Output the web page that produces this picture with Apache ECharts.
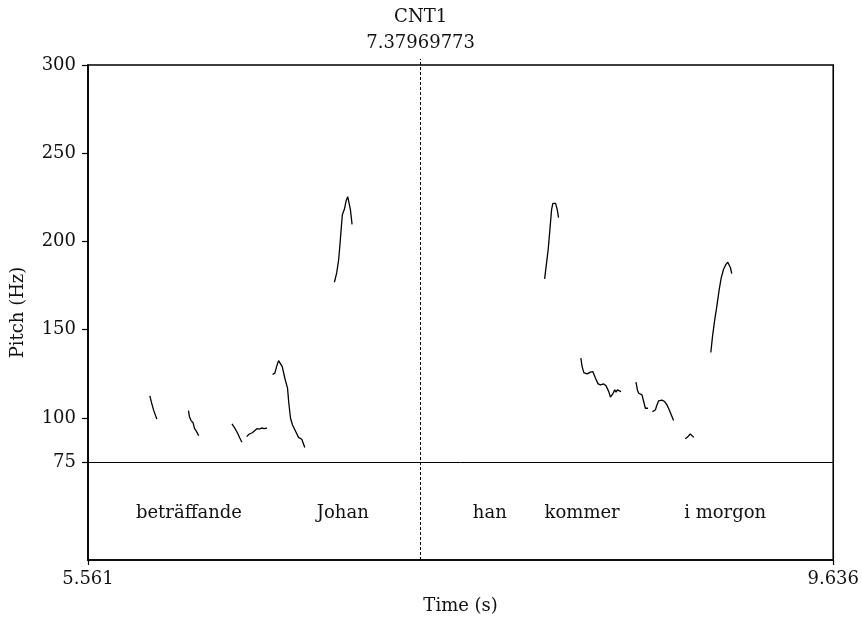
<!DOCTYPE html>
<html>
<head>
<meta charset="utf-8">
<script src="https://cdn.jsdelivr.net/npm/echarts@6/dist/echarts.min.js"></script>
<style>
html,body{margin:0;padding:0;background:#fff;}
#chart{width:862px;height:620px;}
</style>
</head>
<body>
<div id="chart"></div>
<script>
// Time range (s) and pitch ticks (Hz)
const timeMin = 5.561;
const timeMax = 9.636;
const xTickLabels = [5.561, 9.636];
const yTickLabels = [75, 100, 150, 200, 250, 300];
const pitchFloor = 75;
const boundaryTime = 7.37969773;
const boundaryName = 'CNT1';

// Text tier words and their centre times
const tierWords = ['beträffande', 'Johan', 'han', 'kommer', 'i morgon'];
const tierTimes = [6.113, 6.954, 7.758, 8.263, 9.045];

// Pitch contour segments [time (s), pitch (Hz)]
const seg1 = [[5.8992,112.5],[5.9101,108.0],[5.9210,104.0],[5.9374,99.4]];
const seg2 = [[6.1103,104.1],[6.1158,100.7],[6.1245,98.5],[6.1354,97.3],[6.1431,94.1],[6.1540,92.4],[6.1665,89.9]];
const seg3 = [[6.3482,96.6],[6.3645,94.1],[6.3793,91.3],[6.3902,88.8],[6.4027,86.2]];
const seg4 = [[6.4283,89.4],[6.4431,90.9],[6.4594,91.6],[6.4703,92.6],[6.4845,93.9],[6.4976,93.6],[6.5102,94.3],[6.5249,93.9],[6.5391,94.3]];
const seg5 = [[6.5702,124.6],[6.5827,125.4],[6.5920,129.1],[6.6029,132.5],[6.6122,132.4],[6.6231,129.1],[6.6373,122.5],[6.6520,116.9],[6.6591,108.3],[6.6684,99.8],[6.6793,96.0],[6.6973,92.2],[6.7120,89.0],[6.7300,87.9],[6.7464,83.3]];
const seg6 = [[6.9084,176.9],[6.9209,182.2],[6.9318,189.8],[6.9395,199.3],[6.9466,208.7],[6.9520,215.3],[6.9629,218.2],[6.9722,222.9],[6.9810,225.4],[6.9902,224.3],[6.9957,218.2],[7.0049,209.7]];
const seg7 = [[8.0578,178.8],[8.0774,195.5],[8.0867,206.8],[8.0960,218.2],[8.1030,221.6],[8.1178,221.6],[8.1265,218.2],[8.1341,213.5]];
const seg8 = [[8.2558,133.9],[8.2629,129.1],[8.2721,125.7],[8.2901,125.0],[8.3087,126.0],[8.3213,126.3],[8.3360,122.5],[8.3502,119.3],[8.3633,118.7],[8.3812,119.3],[8.3938,118.2],[8.4085,114.9],[8.4178,111.8],[8.4304,113.6],[8.4412,115.9],[8.4483,114.6],[8.4560,115.9],[8.4631,114.9],[8.4757,114.9]];
const seg9 = [[8.5575,120.3],[8.5651,115.9],[8.5722,114.0],[8.5902,113.1],[8.5995,109.3],[8.6088,105.5],[8.6230,105.5]];
const seg10 = [[8.6470,103.6],[8.6633,104.5],[8.6720,107.4],[8.6813,109.7],[8.6993,110.1],[8.7140,109.3],[8.7266,107.4],[8.7397,104.5],[8.7506,101.7],[8.7631,98.5]];
const seg11 = [[8.8269,88.2],[8.8411,89.4],[8.8542,90.9],[8.8629,89.9],[8.8738,89.0]];
const seg12 = [[8.9666,137.1],[8.9759,146.2],[8.9868,154.7],[8.9994,163.2],[9.0124,172.7],[9.0234,179.4],[9.0359,184.1],[9.0484,186.9],[9.0593,188.2],[9.0670,187.9],[9.0740,185.1],[9.0811,181.8]];
const segments = [seg1, seg2, seg3, seg4, seg5, seg6, seg7, seg8, seg9, seg10, seg11, seg12];

const FONT = 'DejaVu Serif';
const FS = 18;
const TXT = '#111';
const tierY = 46;

const chart = echarts.init(document.getElementById('chart'), null, {renderer: 'canvas'});

const series = segments.map(seg => ({
  type: 'line',
  data: seg,
  showSymbol: false,
  symbol: 'none',
  lineStyle: {color: '#000', width: 1.3},
  silent: true,
  animation: false
}));

series.push({
  type: 'scatter',
  symbolSize: 0,
  itemStyle: {color: '#000', opacity: 1},
  data: tierWords.map((w, i) => ({name: w, value: [tierTimes[i], tierY]})),
  label: {
    show: true,
    position: 'inside',
    formatter: p => p.name,
    color: TXT,
    opacity: 1,
    fontFamily: FONT,
    fontSize: FS
  },
  silent: true,
  animation: false,
  markLine: {
    silent: true,
    symbol: ['none', 'none'],
    label: {show: false},
    animation: false,
    data: [
      {xAxis: boundaryTime, lineStyle: {type: [3, 2], width: 1, color: '#000'}},
      {yAxis: pitchFloor, lineStyle: {type: 'solid', width: 1, color: '#000'}}
    ]
  }
});

chart.setOption({
  animation: false,
  backgroundColor: '#fff',
  grid: {
    left: 88, top: 65, width: 747, height: 495,
    show: true, borderColor: '#000', borderWidth: 1.6,
    containLabel: false
  },
  xAxis: [
    {
      type: 'value', min: timeMin, max: timeMax, position: 'bottom',
      name: 'Time (s)', nameLocation: 'middle', nameGap: 37,
      nameTextStyle: {fontFamily: FONT, fontSize: FS, color: TXT},
      axisLine: {show: true, lineStyle: {color: '#000', width: 1.6}},
      axisTick: {show: true, customValues: xTickLabels, length: 5, lineStyle: {color: '#000', width: 1.2}},
      axisLabel: {show: true, customValues: xTickLabels, formatter: v => v.toFixed(3), margin: 10,
        fontFamily: FONT, fontSize: FS, color: TXT},
      splitLine: {show: false}
    },
    {
      type: 'value', min: timeMin, max: timeMax, position: 'top',
      axisLine: {show: false},
      axisTick: {show: true, customValues: [boundaryTime], length: 6, lineStyle: {color: '#000', width: 1, type: [3, 2]}},
      axisLabel: {show: true, customValues: [boundaryTime], margin: 11,
        formatter: v => '{c|' + boundaryName + '}\n{v|' + v.toFixed(8) + '}',
        rich: {
          c: {fontFamily: FONT, fontSize: FS, color: TXT, lineHeight: 30},
          v: {fontFamily: FONT, fontSize: FS, color: TXT, lineHeight: 22}
        }
      },
      splitLine: {show: false}
    }
  ],
  yAxis: {
    type: 'value', min: 19.5, max: 300,
    name: 'Pitch (Hz)', nameLocation: 'middle', nameGap: 61,
    nameTextStyle: {fontFamily: FONT, fontSize: FS, color: TXT},
    axisLine: {show: true, lineStyle: {color: '#000', width: 1.6}},
    axisTick: {show: true, customValues: yTickLabels, length: 6, lineStyle: {color: '#000', width: 1.2}},
    axisLabel: {show: true, customValues: yTickLabels, margin: 12,
      fontFamily: FONT, fontSize: FS, color: TXT},
    splitLine: {show: false}
  },
  series: series
});
</script>
</body>
</html>
